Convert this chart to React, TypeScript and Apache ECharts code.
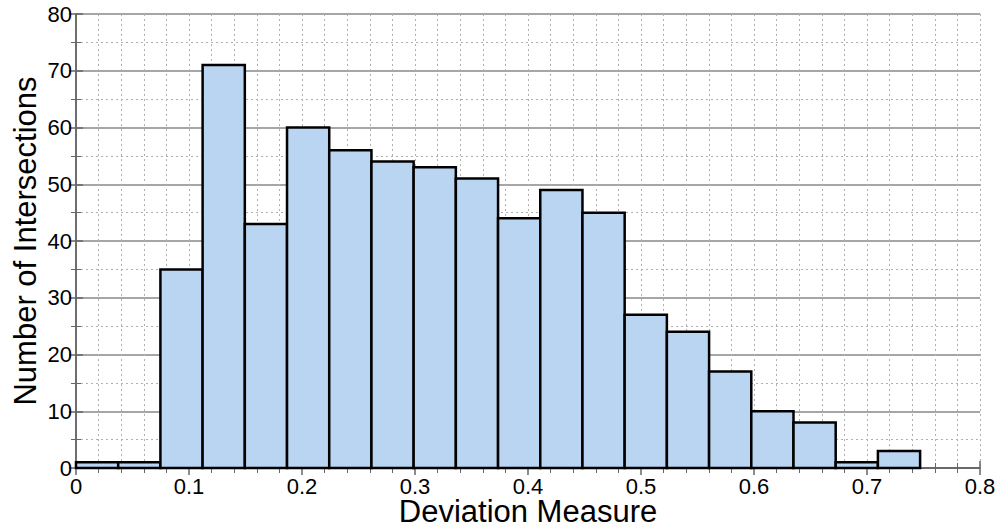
import React, { useEffect, useRef } from "react";
import * as echarts from "echarts";

// Histogram of the deviation measure: 20 equal-width bins starting at 0.
const BIN_START = 0;
const BIN_WIDTH = 0.03735;
const COUNTS = [1, 1, 35, 71, 43, 60, 56, 54, 53, 51, 44, 49, 45, 27, 24, 17, 10, 8, 1, 3];
const X_TICKS = ["0", "0.1", "0.2", "0.3", "0.4", "0.5", "0.6", "0.7", "0.8"];
const Y_TICKS = ["0", "10", "20", "30", "40", "50", "60", "70", "80"];

const FONT = "'Liberation Sans', Arial, sans-serif";

export default function App() {
  const ref = useRef<HTMLDivElement>(null);

  useEffect(() => {
    if (!ref.current) return;
    const chart = echarts.init(ref.current, undefined, { renderer: "svg" });

    const bins = COUNTS.map((c, i) => [
      BIN_START + i * BIN_WIDTH,
      BIN_START + (i + 1) * BIN_WIDTH,
      c,
    ]);

    const frameColor = "#666";
    const tickLabel = { color: "#000", fontSize: 22, fontFamily: FONT };
    const titleStyle = { fontSize: 31, fontFamily: FONT, color: "#000" };

    chart.setOption({
      animation: false,
      backgroundColor: "#fff",
      grid: {
        left: 76,
        right: 20,
        top: 14,
        bottom: 62,
        containLabel: false,
        outerBoundsMode: "none",
      },
      xAxis: [
        {
          type: "value",
          min: 0,
          max: 0.8,
          interval: 0.1,
          name: "Deviation Measure",
          nameLocation: "middle",
          nameMoveOverlap: false,
          nameGap: 31,
          nameTextStyle: { ...titleStyle, lineHeight: 24 },
          axisLine: { show: true, lineStyle: { color: frameColor, width: 1.5 } },
          axisTick: { show: true, inside: true, length: 7, lineStyle: { color: frameColor, width: 1.5 } },
          minorTick: { show: true, splitNumber: 5, length: 5, lineStyle: { color: frameColor } },
          axisLabel: {
            ...tickLabel,
            lineHeight: 16,
            margin: 10,
            formatter: (v: number) => X_TICKS[Math.round(v * 10)] ?? "",
          },
          splitLine: { show: true, lineStyle: { color: "#b0b0b0", type: [2, 3], width: 1 } },
          minorSplitLine: { show: true, lineStyle: { color: "#b0b0b0", type: [2, 3], width: 1 } },
        },
        {
          type: "value",
          position: "top",
          min: 0,
          max: 0.8,
          interval: 0.1,
          axisLine: { show: true, lineStyle: { color: frameColor, width: 1.5 } },
          axisTick: { show: true, inside: true, length: 7, lineStyle: { color: frameColor, width: 1.5 } },
          minorTick: { show: true, splitNumber: 5, length: 5, lineStyle: { color: frameColor } },
          axisLabel: { show: false },
          splitLine: { show: false },
        },
      ],
      yAxis: [
        {
          type: "value",
          min: 0,
          max: 80,
          interval: 10,
          name: "Number of Intersections",
          nameLocation: "middle",
          nameMoveOverlap: false,
          nameGap: 35,
          nameTextStyle: titleStyle,
          axisLine: { show: true, lineStyle: { color: frameColor, width: 1.5 } },
          axisTick: { show: true, inside: true, length: 7, lineStyle: { color: frameColor, width: 1.5 } },
          minorTick: { show: true, splitNumber: 2, length: 5, lineStyle: { color: frameColor } },
          axisLabel: {
            ...tickLabel,
            margin: 4,
            formatter: (v: number) => Y_TICKS[Math.round(v / 10)] ?? "",
          },
          splitLine: { show: true, lineStyle: { color: "#888", width: 1.5 } },
          minorSplitLine: { show: true, lineStyle: { color: "#b0b0b0", type: [2, 3], width: 1 } },
        },
        {
          type: "value",
          position: "right",
          min: 0,
          max: 80,
          interval: 10,
          axisLine: { show: true, lineStyle: { color: frameColor, width: 1.5 } },
          axisTick: { show: true, inside: true, length: 7, lineStyle: { color: frameColor, width: 1.5 } },
          minorTick: { show: true, splitNumber: 2, length: 5, lineStyle: { color: frameColor } },
          axisLabel: { show: false },
          splitLine: { show: false },
        },
      ],
      series: [
        {
          type: "custom",
          xAxisIndex: 0,
          yAxisIndex: 0,
          data: bins,
          encode: { x: [0, 1], y: 2 },
          renderItem: (params: any, api: any) => {
            const p0 = api.coord([api.value(0), 0]);
            const p1 = api.coord([api.value(1), api.value(2)]);
            return {
              type: "rect",
              shape: { x: p0[0], y: p1[1], width: p1[0] - p0[0], height: p0[1] - p1[1] },
              style: { fill: "#b9d5f2", stroke: "#000", lineWidth: 2.5 },
            };
          },
          z: 3,
        },
      ],
    });

    return () => chart.dispose();
  }, []);

  return (
    <div
      ref={ref}
      style={{ position: "fixed", left: 0, top: 0, width: 1000, height: 530, background: "#fff" }}
    />
  );
}
